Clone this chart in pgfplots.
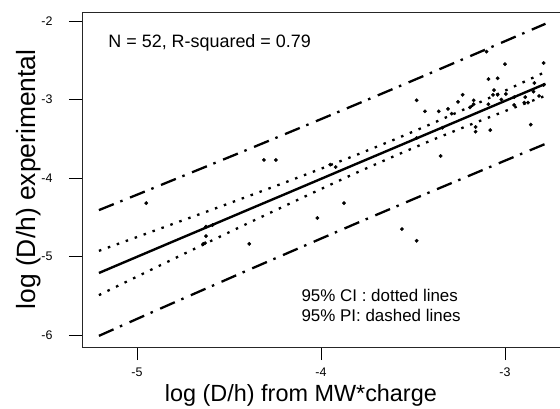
\documentclass[border=0pt]{standalone}
\usepackage{fontspec}
\setmainfont{Liberation Sans}
\usepackage{pgfplots}
\usepackage{pgfplotstable}
\pgfplotsset{compat=1.18}
\pgfplotstableread{
x y
-4.95 -4.32
-4.625 -4.62
-4.59 -4.60
-4.625 -4.74
-4.63 -4.83
-4.64 -4.84
-4.39 -4.84
-4.31 -3.77
-4.245 -3.77
-4.02 -4.51
-3.92 -3.86
-3.875 -4.32
-3.56 -4.65
-3.48 -4.80
-3.10 -2.39
-3.00 -2.55
-2.79 -2.535
-3.09 -2.74
-3.04 -2.73
-3.48 -3.01
-3.23 -2.94
-3.255 -3.03
-3.17 -3.01
-3.17 -3.06
-3.06 -2.88
-3.065 -2.94
-3.04 -2.94
-2.995 -2.93
-3.435 -3.15
-3.36 -3.15
-3.29 -3.18
-3.09 -3.06
-2.95 -2.97
-2.95 -3.07
-2.89 -2.97
-2.895 -3.04
-2.875 -3.04
-2.84 -2.79
-2.845 -2.90
-2.79 -2.815
-2.815 -2.955
-3.34 -3.36
-3.16 -3.35
-3.16 -3.41
-3.08 -3.39
-2.86 -3.32
-3.48 -3.49
-3.35 -3.72
-3.95 -3.83
-3.19 -3.10
-3.31 -3.12
-3.02 -3.00
}\pts
\pgfplotstableread{
x f ciu cil piu pil
-5.207 -5.210 -4.928 -5.492 -4.409 -6.011
-5.0 -5.004 -4.752 -5.256 -4.213 -5.795
-4.8 -4.805 -4.581 -5.029 -4.022 -5.588
-4.6 -4.607 -4.410 -4.804 -3.831 -5.383
-4.4 -4.408 -4.236 -4.580 -3.639 -5.177
-4.2 -4.210 -4.061 -4.359 -3.445 -4.975
-4.0 -4.011 -3.882 -4.140 -3.250 -4.772
-3.8 -3.812 -3.699 -3.925 -3.054 -4.570
-3.6 -3.614 -3.509 -3.719 -2.857 -4.371
-3.4 -3.415 -3.310 -3.520 -2.658 -4.172
-3.2 -3.217 -3.103 -3.331 -2.458 -3.976
-3.0 -3.018 -2.888 -3.148 -2.257 -3.779
-2.78 -2.800 -2.648 -2.952 -2.035 -3.565
}\bands
\begin{document}
\begin{tikzpicture}[x=1bp,y=1bp]
\begin{axis}[
  at={(0,0)}, anchor=south west,
  scale only axis, width=478bp, height=335bp,
  xmin=-5.299, xmax=-2.701, ymin=-6.153, ymax=-1.885,
  axis x line*=bottom, axis y line*=left,
  axis line style={-, line width=0.9bp, black!85},
  xtick={-5,-4,-3}, xticklabels={-5,-4,-3},
  ytick={-6,-5,-4,-3,-2}, yticklabels={-6,-5,-4,-3,-2},
  tick align=outside,
  major tick length=13bp,
  tick style={line width=0.9bp, black},
  tick label style={font=\fontsize{12.5}{14}\selectfont},
  xticklabel style={yshift=-4bp},
  yticklabel style={xshift=-13bp},
  xlabel={log (D/h) from MW*charge},
  ylabel={log (D/h) experimental},
  xlabel style={font=\fontsize{23.5}{26}\selectfont, at={(axis description cs:0.458,-0.1433)}, anchor=center},
  ylabel style={font=\fontsize{26.5}{29}\selectfont, at={(axis description cs:-0.112,0.5)}, anchor=center},
  clip=true,
]
\addplot[only marks, mark=*, mark size=1.7bp, black] table[x=x,y=y]{\pts};
\addplot[black, line width=2.4bp] table[x=x,y=f]{\bands};
\addplot[black, line width=2.3bp, dash pattern=on 2.5bp off 7bp] table[x=x,y=ciu]{\bands};
\addplot[black, line width=2.3bp, dash pattern=on 2.5bp off 7bp] table[x=x,y=cil]{\bands};
\addplot[black, line width=2.3bp, dash pattern=on 16bp off 7bp on 2.5bp off 8bp] table[x=x,y=piu]{\bands};
\addplot[black, line width=2.3bp, dash pattern=on 16bp off 7bp on 2.5bp off 8bp] table[x=x,y=pil]{\bands};
\draw[line width=0.9bp, black!85] (rel axis cs:0,1) -- (rel axis cs:1,1);
\node[anchor=base west, font=\fontsize{18}{20}\selectfont] at (axis description cs:0.048,0.8955) {N = 52, R-squared = 0.79};
\node[anchor=base west, font=\fontsize{17}{19}\selectfont] at (axis description cs:0.452,0.137) {95\% CI : dotted lines};
\node[anchor=base west, font=\fontsize{17}{19}\selectfont] at (axis description cs:0.452,0.075) {95\% PI: dashed lines};
\end{axis}
\pgfresetboundingbox
\path[use as bounding box] (-82bp,-62bp) rectangle (478bp,347bp);
\end{tikzpicture}
\end{document}
